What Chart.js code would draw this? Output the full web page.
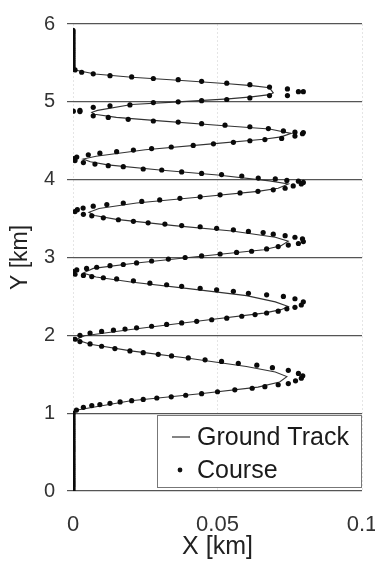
<!DOCTYPE html>
<html>
<head>
<meta charset="utf-8">
<script src="https://cdn.jsdelivr.net/npm/chart.js@4.4.1/dist/chart.umd.min.js"></script>
<style>
html,body{margin:0;padding:0;background:#fff;}
#wrap{position:relative;width:375px;height:567px;}
</style>
</head>
<body>
<div id="wrap"><canvas id="c" width="375" height="567"></canvas></div>
<script>
// ---- Data ----
const seriesNames = ['Ground Track', 'Course'];

const trackX = [0, 0, 0.002, 0.020, 0.044, 0.064, 0.0715, 0.074,
  0.070, 0.060, 0.040, 0.020, 0.006, 0.001,
  0.004, 0.020, 0.045, 0.066, 0.072, 0.0745,
  0.070, 0.060, 0.040, 0.020, 0.008, 0.0035,
  0.007, 0.022, 0.045, 0.066, 0.072, 0.0745,
  0.070, 0.055, 0.035, 0.015, 0.0075, 0.0055,
  0.009, 0.022, 0.045, 0.064, 0.071, 0.0745,
  0.068, 0.050, 0.030, 0.012, 0.006, 0.0035,
  0.008, 0.025, 0.048, 0.066, 0.072, 0.0755,
  0.068, 0.050, 0.030, 0.015, 0.0075, 0.0065,
  0.0085, 0.0203, 0.0364, 0.0537, 0.0618, 0.068, 0.0693,
  0.068, 0.0618, 0.0537, 0.0364, 0.0203, 0.0076, 0.0007, 0, 0];
const trackY = [0, 1.0, 1.045, 1.16, 1.25, 1.335, 1.40, 1.47,
  1.53, 1.60, 1.705, 1.80, 1.885, 1.945,
  1.995, 2.075, 2.19, 2.285, 2.33, 2.37,
  2.43, 2.51, 2.60, 2.685, 2.75, 2.80,
  2.86, 2.93, 3.02, 3.10, 3.15, 3.21,
  3.26, 3.34, 3.41, 3.49, 3.54, 3.58,
  3.63, 3.70, 3.78, 3.85, 3.89, 3.945,
  3.985, 4.06, 4.125, 4.19, 4.23, 4.265,
  4.30, 4.385, 4.46, 4.52, 4.55, 4.595,
  4.65, 4.70, 4.755, 4.80, 4.84, 4.865,
  4.89, 4.966, 5.0, 5.038, 5.064, 5.093, 5.115,
  5.18, 5.208, 5.233, 5.277, 5.315, 5.357, 5.41, 5.43, 5.92];

const courseX = [
  // vertical start
  0, 0, 0, 0, 0, 0, 0, 0, 0, 0, 0, 0, 0, 0, 0, 0, 0, 0, 0, 0,
  0, 0, 0, 0, 0, 0, 0, 0, 0, 0, 0, 0, 0, 0, 0, 0, 0, 0, 0, 0, 0, 0.0012,
  // leg 1
  0.0036, 0.0065, 0.0093, 0.0128, 0.0163, 0.0203, 0.0243, 0.029, 0.034, 0.039, 0.0445, 0.050, 0.056, 0.062, 0.0664, 0.071, 0.0745, 0.077, 0.079, 0.0795,
  // leg 2
  0.078, 0.0745, 0.069, 0.0636, 0.0572, 0.0514, 0.0457, 0.0399, 0.0341, 0.0295, 0.0243, 0.0197, 0.0145, 0.0099, 0.0059, 0.0024, 0.0007,
  // leg 3
  0.0024, 0.0059, 0.0099, 0.014, 0.018, 0.022, 0.0272, 0.0324, 0.0376, 0.0428, 0.048, 0.0532, 0.0584, 0.063, 0.067, 0.071, 0.074, 0.0768, 0.079, 0.0797,
  // leg 4
  0.0768, 0.0728, 0.067, 0.0607, 0.0555, 0.0497, 0.044, 0.0376, 0.0324, 0.0266, 0.0209, 0.0151, 0.0105, 0.0065, 0.0036, 0.0007, 0.0001,
  // leg 5
  0.0013, 0.0047, 0.0082, 0.0128, 0.0174, 0.022, 0.0272, 0.033, 0.0388, 0.0445, 0.0509, 0.0566, 0.0618, 0.067, 0.071, 0.0745, 0.078, 0.0797,
  // leg 6
  0.0794, 0.0768, 0.0734, 0.0693, 0.0658, 0.0607, 0.0555, 0.0497, 0.044, 0.0376, 0.0318, 0.026, 0.0209, 0.0157, 0.0105, 0.0065, 0.0036, 0.0007, 0.0015,
  // leg 7
  0.0035, 0.007, 0.0117, 0.0174, 0.0238, 0.030, 0.037, 0.044, 0.0509, 0.0578, 0.064, 0.0693, 0.0734, 0.0762, 0.079,
  // leg 8
  0.0797, 0.078, 0.074, 0.070, 0.0641, 0.0584, 0.0514, 0.0445, 0.0376, 0.0307, 0.0243, 0.0174, 0.0122, 0.0076, 0.0036, 0.0007, 0.0003,
  // leg 9
  0.0013, 0.0053, 0.0093, 0.0151, 0.0209, 0.0272, 0.034, 0.0416, 0.0486, 0.0555, 0.0612, 0.0664, 0.0722, 0.0768, 0.0794, 0.0797,
  // leg 10
  0.0768, 0.0728, 0.0676, 0.0612, 0.0526, 0.0445, 0.0364, 0.0278, 0.0191, 0.0122, 0.007,
  // left cluster
  0.0001, 0.0024, 0.0024,
  // leg 11
  0.007, 0.0128, 0.0197, 0.0278, 0.0364, 0.0445, 0.0532, 0.0612, 0.068,
  // right cluster
  0.0742, 0.0742, 0.078, 0.0797,
  // leg 12
  0.068, 0.0612, 0.0532, 0.0445, 0.0364, 0.0278, 0.0203, 0.0128, 0.007, 0.003, 0.0007,
  // vertical end
  0, 0, 0, 0, 0, 0, 0, 0, 0, 0, 0, 0, 0, 0, 0, 0, 0, 0, 0, 0, 0
];
const courseY = [
  0, 0.025, 0.05, 0.075, 0.1, 0.125, 0.15, 0.175, 0.2, 0.225, 0.25, 0.275, 0.3, 0.325, 0.35, 0.375, 0.4, 0.425, 0.45, 0.475,
  0.5, 0.525, 0.55, 0.575, 0.6, 0.625, 0.65, 0.675, 0.7, 0.725, 0.75, 0.775, 0.8, 0.825, 0.85, 0.875, 0.9, 0.925, 0.95, 0.975, 1.0, 1.04,
  1.075, 1.097, 1.11, 1.126, 1.144, 1.161, 1.177, 1.195, 1.21, 1.23, 1.25, 1.275, 1.30, 1.32, 1.34, 1.365, 1.38, 1.416, 1.45, 1.48,
  1.51, 1.55, 1.585, 1.616, 1.64, 1.665, 1.685, 1.71, 1.735, 1.756, 1.777, 1.80, 1.83, 1.86, 1.89, 1.92, 1.95,
  2.0, 2.03, 2.05, 2.066, 2.08, 2.096, 2.117, 2.14, 2.16, 2.18, 2.20, 2.22, 2.245, 2.267, 2.287, 2.31, 2.34, 2.36, 2.39, 2.43,
  2.47, 2.50, 2.52, 2.54, 2.565, 2.585, 2.605, 2.63, 2.65, 2.67, 2.70, 2.725, 2.74, 2.755, 2.77, 2.785, 2.82,
  2.84, 2.86, 2.875, 2.895, 2.91, 2.93, 2.955, 2.98, 3.0, 3.02, 3.045, 3.065, 3.08, 3.11, 3.14, 3.16, 3.18, 3.205,
  3.24, 3.26, 3.28, 3.30, 3.32, 3.335, 3.355, 3.375, 3.395, 3.41, 3.43, 3.445, 3.465, 3.485, 3.51, 3.535, 3.555, 3.59, 3.615,
  3.635, 3.66, 3.68, 3.70, 3.72, 3.74, 3.76, 3.78, 3.805, 3.83, 3.85, 3.87, 3.89, 3.92, 3.945,
  3.965, 3.98, 3.99, 4.01, 4.02, 4.047, 4.065, 4.08, 4.10, 4.124, 4.137, 4.167, 4.18, 4.20, 4.22, 4.245, 4.27,
  4.29, 4.32, 4.34, 4.36, 4.38, 4.40, 4.42, 4.44, 4.46, 4.48, 4.50, 4.515, 4.53, 4.56, 4.59, 4.605,
  4.61, 4.626, 4.656, 4.68, 4.70, 4.72, 4.74, 4.754, 4.775, 4.80, 4.82,
  4.88, 4.875, 4.89,
  4.93, 4.95, 4.96, 4.99, 5.0, 5.015, 5.03, 5.05, 5.08,
  5.08, 5.166, 5.13, 5.13,
  5.19, 5.22, 5.24, 5.264, 5.285, 5.30, 5.32, 5.336, 5.36, 5.38, 5.41,
  5.42, 5.445, 5.47, 5.495, 5.52, 5.545, 5.57, 5.595, 5.62, 5.645, 5.67, 5.695, 5.72, 5.745, 5.77, 5.795, 5.82, 5.845, 5.87, 5.895, 5.92
];

const xTickValues = [0, 0.05, 0.1];
const xTickLabels = ['0', '0.05', '0.1'];
const yTickValues = [0, 1, 2, 3, 4, 5, 6];
const yTickLabels = ['0', '1', '2', '3', '4', '5', '6'];
const xTitle = 'X [km]';
const yTitle = 'Y [km]';

// ---- Chart ----
const FAMILY = "'Liberation Sans', Arial, Helvetica, sans-serif";

const boxLegend = {
  id: 'boxLegend',
  afterDraw(chart) {
    const ca = chart.chartArea;
    const c = chart.ctx;
    const x0 = ca.left + 84, y0 = ca.bottom - 76, w = ca.right - 1 - x0, h = 72;
    c.save();
    c.fillStyle = '#fff';
    c.fillRect(x0, y0, w, h);
    c.strokeStyle = '#777';
    c.lineWidth = 1;
    c.strokeRect(x0 + 0.5, y0 + 0.5, w, h);
    c.font = '25px ' + FAMILY;
    c.fillStyle = '#1a1a1a';
    c.textBaseline = 'middle';
    c.textAlign = 'left';
    const yA = y0 + 22, yB = y0 + 55;
    c.strokeStyle = '#333';
    c.lineWidth = 1.2;
    c.beginPath();
    c.moveTo(x0 + 15, yA);
    c.lineTo(x0 + 33, yA);
    c.stroke();
    c.fillText(seriesNames[0], x0 + 40, yA + 1);
    c.beginPath();
    c.arc(x0 + 23, yB, 2.4, 0, Math.PI * 2);
    c.fillStyle = '#111';
    c.fill();
    c.fillStyle = '#1a1a1a';
    c.fillText(seriesNames[1], x0 + 40, yB + 1);
    c.restore();
  }
};

new Chart(document.getElementById('c').getContext('2d'), {
  type: 'scatter',
  data: {
    datasets: [
      {
        label: seriesNames[1],
        data: courseX.map((x, i) => ({ x: x, y: courseY[i] })),
        showLine: false,
        pointRadius: 2.6,
        pointBackgroundColor: '#0a0a0a',
        pointBorderWidth: 0,
        pointBorderColor: '#0a0a0a'
      },
      {
        label: seriesNames[0],
        data: trackX.map((x, i) => ({ x: x, y: trackY[i] })),
        showLine: true,
        pointRadius: 0,
        borderColor: '#333',
        borderWidth: 1.1,
        tension: 0,
        fill: false
      }
    ]
  },
  options: {
    responsive: false,
    animation: false,
    devicePixelRatio: 1,
    layout: { padding: { top: 20, right: 13, left: 0, bottom: 0 } },
    plugins: { legend: { display: false }, tooltip: { enabled: false } },
    scales: {
      x: {
        type: 'linear',
        min: 0,
        max: 0.1,
        afterBuildTicks: (s) => { s.ticks = xTickValues.map(v => ({ value: v })); },
        ticks: {
          callback: (v, i) => xTickLabels[i],
          font: { family: FAMILY, size: 22 },
          color: '#333',
          padding: 21,
          maxRotation: 0,
          autoSkip: false
        },
        grid: { color: 'rgba(0,0,0,0.10)', lineWidth: 1, drawTicks: false },
        border: { display: false, dash: [2, 2] },
        title: {
          display: true, text: xTitle, color: '#222',
          font: { family: FAMILY, size: 25 },
          padding: { top: 0, bottom: 5 }
        },
        afterFit: (s) => { s.height = 76; s.paddingLeft = 0; s.paddingRight = 0; }
      },
      y: {
        type: 'linear',
        min: 0,
        max: 6,
        afterBuildTicks: (s) => { s.ticks = yTickValues.map(v => ({ value: v })); },
        ticks: {
          callback: (v, i) => yTickLabels[i],
          font: { family: FAMILY, size: 20 },
          color: '#333',
          padding: 12,
          autoSkip: false
        },
        grid: { color: '#555', lineWidth: 1.2, tickLength: 6, drawTicks: true },
        border: { display: false },
        title: {
          display: true, text: yTitle, color: '#222',
          font: { family: FAMILY, size: 23 },
          padding: { top: 7, bottom: 0 }
        },
        afterFit: (s) => { s.width = 73; }
      }
    }
  },
  plugins: [boxLegend]
});
</script>
</body>
</html>
